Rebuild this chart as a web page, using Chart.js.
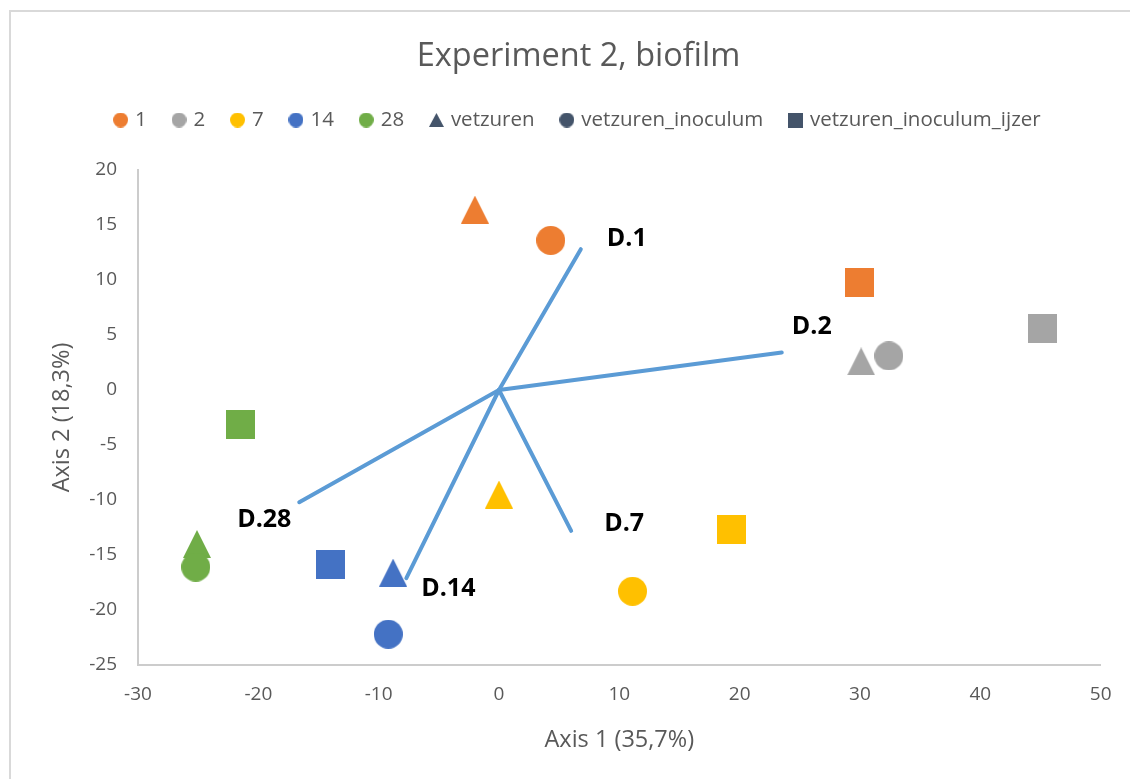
<!DOCTYPE html>
<html><head><meta charset="utf-8">
<script src="https://cdn.jsdelivr.net/npm/chart.js@4.4.1/dist/chart.umd.min.js"></script>
<style>
html,body{margin:0;padding:0;background:#fff;}
#wrap{position:relative;width:1130px;height:779px;overflow:hidden;}
#frame{position:absolute;left:9px;top:10px;right:-5px;bottom:-5px;border-left:2px solid #d9d9d9;border-top:2px solid #d9d9d9;}
canvas{position:absolute;left:0;top:0;}
</style></head><body>
<div id="wrap"><div id="frame"></div><canvas id="c" width="1130" height="779"></canvas></div>
<script>
// ---- data ----
const days = ['1', '2', '7', '14', '28'];
const treatments = ['vetzuren', 'vetzuren_inoculum', 'vetzuren_inoculum_ijzer'];
// scores in treatment order: vetzuren, vetzuren_inoculum, vetzuren_inoculum_ijzer
const day1Axis1 = [-2.0, 4.3, 30.0];
const day1Axis2 = [16.4, 13.6, 9.8];
const day2Axis1 = [30.1, 32.4, 45.2];
const day2Axis2 = [2.6, 3.1, 5.6];
const day7Axis1 = [0.0, 11.1, 19.3];
const day7Axis2 = [-9.5, -18.3, -12.7];
const day14Axis1 = [-8.8, -9.2, -14.0];
const day14Axis2 = [-16.6, -22.2, -15.9];
const day28Axis1 = [-25.1, -25.2, -21.5];
const day28Axis2 = [-14.0, -16.1, -3.1];
const vectorNames = ['D.1', 'D.2', 'D.7', 'D.14', 'D.28'];
const vectorAxis1 = [6.8, 23.5, 6.0, -7.7, -16.6];
const vectorAxis2 = [12.8, 3.4, -12.8, -17.1, -10.2];
const xTicks = [-30, -20, -10, 0, 10, 20, 30, 40, 50];
const yTicks = [-25, -20, -15, -10, -5, 0, 5, 10, 15, 20];

// ---- styles ----
const FONT = '"Open Sans", "Noto Sans", sans-serif';
const TEXT = '#595959';
const dayColors = ['#ed7d31', '#a5a5a5', '#ffc000', '#4472c4', '#70ad47'];
const treatmentShapes = ['triangle', 'circle', 'square'];
const treatmentColor = '#44546a';
const vectorColor = '#5b9bd5';

function marker(shape, color, big) {
  const w = big ? (shape === 'triangle' ? 28 : 29) : 15;
  const h = big ? (shape === 'triangle' ? 28 : 29) : (shape === 'triangle' ? 14 : 15);
  const c = document.createElement('canvas');
  c.width = w; c.height = h;
  const g = c.getContext('2d');
  g.fillStyle = color;
  g.beginPath();
  if (shape === 'circle') g.arc(w / 2, h / 2, w / 2, 0, Math.PI * 2);
  else if (shape === 'square') g.rect(0, 0, w, h);
  else { g.moveTo(w / 2, 0); g.lineTo(w, h); g.lineTo(0, h); g.closePath(); }
  g.fill();
  return c;
}

const axis1ByDay = [day1Axis1, day2Axis1, day7Axis1, day14Axis1, day28Axis1];
const axis2ByDay = [day1Axis2, day2Axis2, day7Axis2, day14Axis2, day28Axis2];

const pointSets = days.map((d, i) => ({
  label: d,
  data: axis1ByDay[i].map((v, j) => ({x: v, y: axis2ByDay[i][j]})),
  pointStyle: treatmentShapes.map(s => marker(s, dayColors[i], true)),
  pointRadius: 14,
  pointHoverRadius: 14,
  showLine: false,
  backgroundColor: dayColors[i],
  borderColor: dayColors[i]
}));

const vectorSets = vectorNames.map((n, i) => ({
  label: n,
  data: [{x: 0, y: 0}, {x: vectorAxis1[i], y: vectorAxis2[i]}],
  showLine: true,
  borderColor: vectorColor,
  borderWidth: 4,
  borderCapStyle: 'round',
  pointRadius: 0,
  pointHoverRadius: 0,
  fill: false
}));

const labelOffsets = {'D.1': [46, -10], 'D.2': [30, -26], 'D.7': [53, -7], 'D.14': [42, 11], 'D.28': [-35, 18]};
const vectorLabelPlugin = {
  id: 'vectorLabels',
  afterDatasetsDraw(chart) {
    const {ctx} = chart;
    const xs = chart.scales.x, ys = chart.scales.y;
    ctx.save();
    ctx.font = 'bold 25px ' + FONT;
    ctx.fillStyle = '#000';
    ctx.textAlign = 'center';
    ctx.textBaseline = 'middle';
    vectorNames.forEach((n, i) => {
      const o = labelOffsets[n];
      ctx.fillText(n, xs.getPixelForValue(vectorAxis1[i]) + o[0], ys.getPixelForValue(vectorAxis2[i]) + o[1]);
    });
    ctx.restore();
  }
};

Chart.defaults.font.family = FONT;
Chart.defaults.color = TEXT;

new Chart(document.getElementById('c'), {
  type: 'scatter',
  data: {datasets: pointSets.concat(vectorSets)},
  options: {
    responsive: false,
    animation: false,
    devicePixelRatio: 1,
    layout: {padding: {left: 54, right: 27, top: 0, bottom: 0}},
    plugins: {
      tooltip: {enabled: false},
      title: {
        display: true,
        text: 'Experiment 2, biofilm',
        color: TEXT,
        font: {size: 32.5, weight: 'normal'},
        padding: {top: 37.5, bottom: 5.25}
      },
      legend: {
        display: true,
        position: 'top',
        onClick: null,
        labels: {
          usePointStyle: true,
          boxWidth: 8.5,
          boxHeight: 6,
          padding: 28,
          color: TEXT,
          font: {size: 20.5},
          generateLabels: () => days.map((d, i) => ({
            text: d, pointStyle: marker('circle', dayColors[i], false),
            fillStyle: dayColors[i], strokeStyle: dayColors[i], lineWidth: 0, hidden: false, fontColor: TEXT
          })).concat(treatments.map((t, j) => ({
            text: t, pointStyle: marker(treatmentShapes[j], treatmentColor, false),
            fillStyle: treatmentColor, strokeStyle: treatmentColor, lineWidth: 0, hidden: false, fontColor: TEXT
          })))
        }
      }
    },
    scales: {
      x: {
        type: 'linear', position: 'bottom',
        min: xTicks[0], max: xTicks[xTicks.length - 1],
        ticks: {stepSize: xTicks[1] - xTicks[0], color: TEXT, font: {size: 19}, padding: 18.5},
        grid: {display: false, drawTicks: false},
        border: {display: true, color: '#cccccc', width: 2},
        title: {display: true, text: 'Axis 1 (35,7%)', color: TEXT, font: {size: 23.5}, padding: {top: 0, bottom: 25}},
        afterFit(s) { s.height = 114; }
      },
      y: {
        type: 'linear', position: 'left',
        min: yTicks[0], max: yTicks[yTicks.length - 1],
        ticks: {stepSize: yTicks[1] - yTicks[0], color: TEXT, font: {size: 19}, padding: 21},
        grid: {display: false, drawTicks: false},
        border: {display: true, color: '#cccccc', width: 2},
        title: {display: true, text: 'Axis 2 (18,3%)', color: TEXT, font: {size: 23.5}, padding: {top: -6, bottom: 0}},
        afterFit(s) { s.width = 84; }
      },
      spacer: {
        type: 'linear', position: 'top', display: true,
        ticks: {display: false},
        grid: {display: false, drawTicks: false},
        border: {display: false},
        afterFit(s) { s.height = 29.75; }
      }
    }
  },
  plugins: [vectorLabelPlugin]
});
</script>
</body></html>
